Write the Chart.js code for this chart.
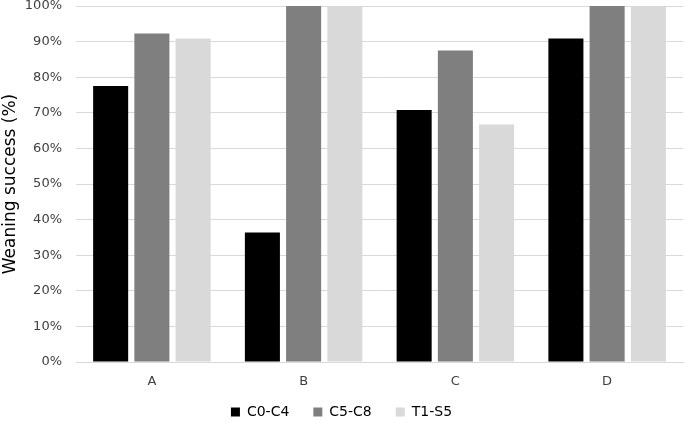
<!DOCTYPE html>
<html><head><meta charset="utf-8">
<script src="https://cdn.jsdelivr.net/npm/chart.js@4"></script>
<style>html,body{margin:0;padding:0;background:#fff}#wrap{width:685px;height:423px}</style>
</head><body><div id="wrap"><canvas id="c" width="685" height="423"></canvas></div>
<script>
const categories = ["A", "B", "C", "D"];
const seriesNames = ["C0-C4", "C5-C8", "T1-S5"];
const c0c4 = [77.5, 36.4, 70.8, 90.9];
const c5c8 = [92.3, 100, 87.5, 100];
const t1s5 = [90.9, 100, 66.7, 100];
const colors = ["#000000", "#7f7f7f", "#d9d9d9"];
const yTicks = [0,10,20,30,40,50,60,70,80,90,100];

// legend: keep wide horizontal spacing but a tighter vertical box
const LegendEl = Chart.registry.getPlugin('legend')._element;
const origDraw = LegendEl.prototype.draw;
const origFit = LegendEl.prototype.fit;
LegendEl.prototype.fit = function () { origFit.call(this); this.height = Math.min(this.height, 34); };
LegendEl.prototype.draw = function () {
  const t = this.top; this.top -= 8; origDraw.call(this); this.top = t;
};

const font = "'DejaVu Sans', Verdana, sans-serif";
new Chart(document.getElementById('c'), {
  type: 'bar',
  data: {
    labels: categories,
    datasets: [c0c4, c5c8, t1s5].map((d, i) => ({
      label: seriesNames[i], data: d, backgroundColor: colors[i],
      borderWidth: 0, barPercentage: 0.85, categoryPercentage: 0.815
    }))
  },
  options: {
    responsive: false, animation: false, devicePixelRatio: 1,
    layout: { padding: { left: 0, right: 2, top: 6, bottom: 0 } },
    plugins: {
      legend: { position: 'bottom', labels: { color: '#000', font: { family: font, size: 14 }, boxWidth: 9, boxHeight: 9, padding: 24 } },
      tooltip: { enabled: false }
    },
    scales: {
      x: {
        afterFit: s => { s.height = 27; },
        grid: { display: false, drawTicks: false },
        border: { color: '#d9d9d9', width: 1 },
        ticks: { color: '#404040', font: { family: font, size: 13 }, padding: 12 }
      },
      y: {
        min: 0, max: 100,
        afterBuildTicks: ax => { ax.ticks = yTicks.map(v => ({ value: v })); },
        afterFit: s => { s.width = 76; s.paddingTop = 0; },
        grid: { color: '#d9d9d9', drawTicks: false },
        border: { display: false },
        ticks: { color: '#404040', font: { family: font, size: 13 }, padding: 14, callback: v => v + '%' },
        title: { display: true, text: 'Weaning success (%)', color: '#000', font: { family: font, size: 17, lineHeight: 1.2 }, padding: { top: 0, bottom: 4 } }
      }
    }
  }
});
</script></body></html>
